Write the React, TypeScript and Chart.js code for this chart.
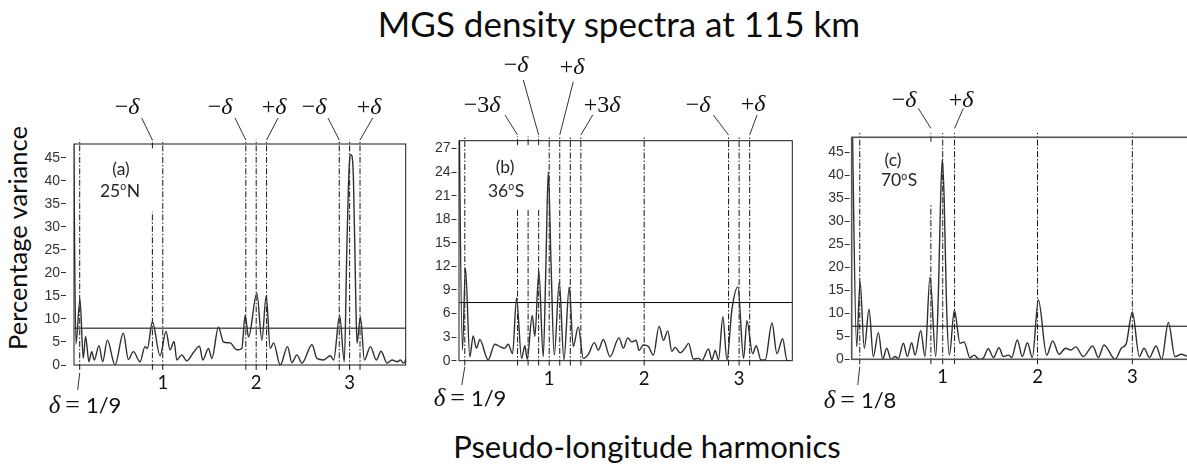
import React, { useEffect, useRef } from "react";
import { Chart, registerables } from "chart.js";

Chart.register(...registerables);

// ================= DATA =================
const titleText = "MGS density spectra at 115 km";
const xAxisTitle = "Pseudo-longitude harmonics";
const yAxisTitle = "Percentage variance";
const xTickValues = [1, 2, 3];

// ---- Panel (a) ----
const deltaA = 1 / 9;
const deltaTextA = "1/9";
const tagA = "(a)";
const latA = "25";
const hemA = "N";
const yTicksA = [0, 5, 10, 15, 20, 25, 30, 35, 40, 45];
const yMaxA = 48;
const xRangeA = [0.05, 3.6];
const thresholdA = 8;
const harmonicsA = [
  0.042, 0.071, 0.114, 0.149, 0.174, 0.21, 0.239, 0.267, 0.317, 0.357, 0.407, 0.489, 0.578, 0.632,
  0.685, 0.757, 0.81, 0.835, 0.889, 0.971, 1.035, 1.078, 1.121, 1.15, 1.203, 1.257, 1.328, 1.393,
  1.428, 1.489, 1.525, 1.596, 1.65, 1.721, 1.793, 1.846, 1.882, 1.918, 2.007, 2.061, 2.107, 2.15,
  2.186, 2.257, 2.336, 2.382, 2.436, 2.489, 2.597, 2.65, 2.722, 2.793, 2.829, 2.893, 2.943, 2.97,
  2.995, 3.015, 3.04, 3.065, 3.079, 3.115, 3.158, 3.222, 3.286, 3.336, 3.401, 3.454, 3.508, 3.543,
  3.579, 3.615,
];
const varianceA = [
  60, 4.6, 14.3, 1.45, 6.2, 0.7, 2.9, 1.1, 4.2, 0.7, 5.4, 0, 6.9, 1.2,
  2.9, 0.7, 4.0, 3.6, 9.4, 2.0, 7.3, 3.3, 5.1, 1.1, 2.2, 0.9, 2.7, 4.1,
  1.1, 3.6, 1.45, 8.2, 5.0, 4.8, 3.3, 3.6, 10.8, 6.1, 15.6, 5.4, 15.0, 3.6,
  4.8, 0, 4.0, 0.5, 2.2, 0.4, 4.4, 1.45, 1.1, 2.0, 1.1, 10.7, 0.7, 25,
  43, 45.7, 41, 15, 4.7, 10.5, 1.1, 4.0, 1.1, 3.0, 0.4, 1.1, 0.7, 1.1,
  0.4, 2.0,
];
const markersA = [deltaA, 1 - deltaA, 1, 2 - deltaA, 2, 2 + deltaA, 3 - deltaA, 3, 3 + deltaA];
const markerCutA = [null, 33.3, null, null, null, null, null, null, null];
const annotTextA = ["−δ", "−δ", "+δ", "−δ", "+δ"];
const annotAtA = [1 - deltaA, 2 - deltaA, 2 + deltaA, 3 - deltaA, 3 + deltaA];

// ---- Panel (b) ----
const deltaB = 1 / 9;
const deltaTextB = "1/9";
const tagB = "(b)";
const latB = "36";
const hemB = "S";
const yTicksB = [0, 3, 6, 9, 12, 15, 18, 21, 24, 27];
const yMaxB = 28;
const xRangeB = [0.05, 3.56];
const thresholdB = 7.4;
const harmonicsB = [
  0.04, 0.086, 0.118, 0.164, 0.199, 0.234, 0.269, 0.357, 0.427, 0.48, 0.533, 0.568, 0.614, 0.656,
  0.709, 0.744, 0.768, 0.821, 0.849, 0.891, 0.937, 0.965, 0.99, 1.02, 1.053, 1.106, 1.155, 1.211,
  1.253, 1.306, 1.359, 1.412, 1.475, 1.517, 1.57, 1.64, 1.735, 1.781, 1.827, 1.869, 1.915, 1.946,
  1.992, 2.045, 2.097, 2.157, 2.203, 2.249, 2.291, 2.326, 2.379, 2.431, 2.467, 2.519, 2.572, 2.607,
  2.678, 2.713, 2.748, 2.783, 2.829, 2.871, 2.924, 2.987, 3.047, 3.082, 3.142, 3.18, 3.23, 3.275,
  3.346, 3.398, 3.458, 3.504, 3.539,
];
const varianceB = [
  45, 1.36, 11.8, 0.5, 3.15, 1.6, 2.7, 0.1, 2.1, 1.8, 1.6, 2.1, 0.9, 8.0,
  0.3, 1.9, 0.2, 5.75, 3.1, 11.4, 0.5, 12, 24.1, 12, 0.7, 10.0, 0.1, 9.4,
  1.8, 4.3, 0.3, 0.8, 2.3, 1.35, 2.7, 0.5, 2.9, 1.6, 2.9, 2.4, 2.6, 1.3,
  2.0, 1.8, 0.7, 4.4, 2.6, 3.8, 1.2, 1.7, 1.0, 1.6, 2.2, 0.2, 0.3, 0,
  1.5, 0.1, 1.3, 0.1, 5.6, 0.1, 6.5, 9.4, 0.3, 5.1, 0.9, 1.9, 0.1, 0.1,
  4.8, 0.9, 2.8, 0.05, 0,
];
const markersB = [
  deltaB, 1 - 3 * deltaB, 1 - 2 * deltaB, 1 - deltaB, 1, 1 + deltaB, 1 + 2 * deltaB, 1 + 3 * deltaB,
  2, 3 - deltaB, 3, 3 + deltaB,
];
const markerCutB = [null, 19.2, 19.2, 19.2, null, null, null, null, null, null, null, null];
const annotTextB = ["−3δ", "−δ", "+δ", "+3δ", "−δ", "+δ"];
const annotAtB = [1 - 3 * deltaB, 1 - deltaB, 1 + deltaB, 1 + 3 * deltaB, 3 - deltaB, 3 + deltaB];

// ---- Panel (c) ----
const deltaC = 1 / 8;
const deltaTextC = "1/8";
const tagC = "(c)";
const latC = "70";
const hemC = "S";
const yTicksC = [0, 5, 10, 15, 20, 25, 30, 35, 40, 45];
const yMaxC = 48.3;
const xRangeC = [0.04, 3.7];
const thresholdC = 7.2;
const harmonicsC = [
  0.04, 0.0925, 0.128, 0.173, 0.223, 0.268, 0.321, 0.367, 0.409, 0.455, 0.497, 0.532, 0.585, 0.627,
  0.673, 0.708, 0.768, 0.813, 0.866, 0.926, 0.955, 0.978, 0.996, 1.015, 1.04, 1.07, 1.123, 1.182,
  1.225, 1.288, 1.33, 1.386, 1.429, 1.481, 1.534, 1.594, 1.64, 1.692, 1.728, 1.787, 1.84, 1.893,
  1.945, 2.009, 2.097, 2.16, 2.227, 2.297, 2.35, 2.403, 2.483, 2.582, 2.642, 2.701, 2.818, 2.888,
  2.934, 3.0, 3.074, 3.123, 3.18, 3.25, 3.31, 3.38, 3.45, 3.521, 3.574, 3.65,
];
const varianceC = [
  60, 2.75, 16.9, 2.4, 10.9, 0.6, 5.8, 0, 2.4, 0, 0.6, 0.2, 3.5, 0.6,
  3.6, 0.9, 6.2, 0.6, 17.9, 0.6, 15, 35, 43.6, 35, 12, 0.9, 10.7, 3.5,
  3.8, 0.3, 0.9, 0, 0.3, 2.3, 0.4, 2.5, 0.6, 0.9, 0.4, 4.2, 0.6, 3.6,
  0.4, 12.9, 0.9, 4.0, 1.1, 2.4, 2.0, 2.7, 0.6, 2.9, 0.4, 3.1, 0, 2.5,
  3.3, 10.3, 0.6, 2.4, 0.4, 2.9, 0, 8.0, 0.6, 1.1, 0.7, 1.0,
];
const markersC = [deltaC, 1 - deltaC, 1, 1 + deltaC, 2, 3];
const markerCutC = [null, 34, null, null, null, null];
const annotTextC = ["−δ", "+δ"];
const annotAtC = [1 - deltaC, 1 + deltaC];

// ================= LAYOUT (page pixels) =================
type Annot = { tx: number; ty: number; lx: number; ly: number; by: number };
type Layout = {
  left: number; top: number; width: number; height: number;
  padTop: number; padRight: number; yAxisW: number; xAxisH: number; tickGap: number;
  boxColor: string; boxWidth: number;
  annots: Annot[];
  dl: { tx: number; ty: number; y1: number; y2: number; dx: number };
  tag: { x1: number; y1: number; x2: number; y2: number };
};

const layoutA: Layout = {
  left: 40, top: 85, width: 380, height: 340,
  padTop: 59, padRight: 14.3, yAxisW: 34, xAxisH: 60, tickGap: 8,
  boxColor: "#1a1a1a", boxWidth: 1,
  annots: [
    { tx: 127, ty: 113.5, lx: 141.7, ly: 118, by: 140 },
    { tx: 220, ty: 113.5, lx: 235, ly: 118, by: 140 },
    { tx: 274, ty: 113.5, lx: 278, ly: 118, by: 140 },
    { tx: 314, ty: 113.5, lx: 328, ly: 118, by: 140 },
    { tx: 369, ty: 113.5, lx: 372.7, ly: 118, by: 140 },
  ],
  dl: { tx: 85, ty: 412.5, y1: 373, y2: 390, dx: -2 },
  tag: { x1: 121, y1: 175, x2: 120, y2: 196.5 },
};

const layoutB: Layout = {
  left: 425, top: 45, width: 380, height: 380,
  padTop: 95.7, padRight: 12.7, yAxisW: 34, xAxisH: 64.3, tickGap: 2.5,
  boxColor: "#1a1a1a", boxWidth: 1,
  annots: [
    { tx: 482, ty: 112, lx: 505, ly: 115, by: 135 },
    { tx: 516, ty: 71.5, lx: 523.3, ly: 80, by: 135 },
    { tx: 572, ty: 73.5, lx: 573.3, ly: 81.7, by: 135 },
    { tx: 602, ty: 111.5, lx: 592.7, ly: 115, by: 135 },
    { tx: 698, ty: 112, lx: 713.3, ly: 115, by: 135 },
    { tx: 753, ty: 111, lx: 757, ly: 115, by: 135 },
  ],
  dl: { tx: 470, ty: 406, y1: 366.7, y2: 385, dx: -3 },
  tag: { x1: 505, y1: 173, x2: 506, y2: 196.5 },
};

const layoutC: Layout = {
  left: 818, top: 80, width: 400, height: 340,
  padTop: 57.3, padRight: 19.3, yAxisW: 33.7, xAxisH: 60.7, tickGap: 2,
  boxColor: "#555", boxWidth: 1.6,
  annots: [
    { tx: 904, ty: 106.7, lx: 918.3, ly: 108.3, by: 128.3 },
    { tx: 961, ty: 106.7, lx: 963.3, ly: 108.3, by: 128.3 },
  ],
  dl: { tx: 860, ty: 408, y1: 366.7, y2: 385, dx: -2 },
  tag: { x1: 893, y1: 165.5, x2: 899, y2: 186 },
};

type PanelData = {
  delta: number; deltaText: string; tag: string; lat: string; hem: string;
  yTicks: number[]; yMax: number; xRange: number[]; threshold: number;
  hx: number[]; vy: number[]; markers: number[]; markerCut: (number | null)[];
  annotText: string[]; annotAt: number[];
};

const panelA: PanelData = {
  delta: deltaA, deltaText: deltaTextA, tag: tagA, lat: latA, hem: hemA, yTicks: yTicksA, yMax: yMaxA,
  xRange: xRangeA, threshold: thresholdA, hx: harmonicsA, vy: varianceA, markers: markersA,
  markerCut: markerCutA, annotText: annotTextA, annotAt: annotAtA,
};
const panelB: PanelData = {
  delta: deltaB, deltaText: deltaTextB, tag: tagB, lat: latB, hem: hemB, yTicks: yTicksB, yMax: yMaxB,
  xRange: xRangeB, threshold: thresholdB, hx: harmonicsB, vy: varianceB, markers: markersB,
  markerCut: markerCutB, annotText: annotTextB, annotAt: annotAtB,
};
const panelC: PanelData = {
  delta: deltaC, deltaText: deltaTextC, tag: tagC, lat: latC, hem: hemC, yTicks: yTicksC, yMax: yMaxC,
  xRange: xRangeC, threshold: thresholdC, hx: harmonicsC, vy: varianceC, markers: markersC,
  markerCut: markerCutC, annotText: annotTextC, annotAt: annotAtC,
};

// ================= DRAW HELPERS =================
const SERIF = "'Liberation Serif', 'DejaVu Serif', serif";
const SANS = "Lato, 'Open Sans', 'Noto Sans', sans-serif";

type Run = { s: string; font: string; gap?: number };

function drawRuns(ctx: CanvasRenderingContext2D, runs: Run[], cx: number, baseline: number) {
  let total = 0;
  const widths = runs.map((r) => {
    ctx.font = r.font;
    const w = ctx.measureText(r.s).width + (r.gap || 0);
    total += w;
    return w;
  });
  let x = cx - total / 2;
  ctx.textAlign = "left";
  ctx.textBaseline = "alphabetic";
  ctx.fillStyle = "#111";
  runs.forEach((r, i) => {
    ctx.font = r.font;
    ctx.fillText(r.s, x, baseline);
    x += widths[i];
  });
}

function mathRuns(text: string, size: number): Run[] {
  return text
    .split(/(δ)/)
    .filter((s) => s.length > 0)
    .map((s) => ({ s, font: (s === "δ" ? "italic " : "") + size + "px " + SERIF }));
}

function drawTag(ctx: CanvasRenderingContext2D, p: PanelData, L: Layout) {
  const ox = L.left, oy = L.top;
  const size = 17.5;
  ctx.fillStyle = "#2a2520";
  ctx.textBaseline = "alphabetic";
  ctx.textAlign = "center";
  ctx.font = size + "px " + SANS;
  ctx.fillText(p.tag, L.tag.x1 - ox, L.tag.y1 - oy);
  const supSize = 10.5;
  ctx.font = size + "px " + SANS;
  const w1 = ctx.measureText(p.lat).width;
  const w3 = ctx.measureText(p.hem).width;
  ctx.font = supSize + "px " + SANS;
  const w2 = ctx.measureText("o").width + 0.5;
  let x = L.tag.x2 - ox - (w1 + w2 + w3) / 2;
  const by = L.tag.y2 - oy;
  ctx.textAlign = "left";
  ctx.font = size + "px " + SANS;
  ctx.fillText(p.lat, x, by);
  x += w1;
  ctx.font = supSize + "px " + SANS;
  ctx.fillText("o", x, by - 6.5);
  x += w2;
  ctx.font = size + "px " + SANS;
  ctx.fillText(p.hem, x, by);
}

function makeOverlay(p: PanelData, L: Layout) {
  return {
    id: "overlay",
    afterDraw(chart: any) {
      const { ctx, chartArea: a } = chart;
      const xs = chart.scales.x;
      const ox = L.left, oy = L.top;
      ctx.save();
      // plot frame
      ctx.strokeStyle = L.boxColor;
      ctx.lineWidth = L.boxWidth;
      ctx.setLineDash([]);
      ctx.strokeRect(a.left, a.top, a.right - a.left, a.bottom - a.top);
      // annotations with leader lines
      ctx.strokeStyle = "#333";
      ctx.lineWidth = 1;
      p.annotText.forEach((t, i) => {
        const an = L.annots[i];
        const bx = xs.getPixelForValue(p.annotAt[i]);
        ctx.beginPath();
        ctx.moveTo(an.lx - ox, an.ly - oy);
        ctx.lineTo(bx, an.by - oy);
        ctx.stroke();
        drawRuns(ctx, mathRuns(t, 24), an.tx - ox, an.ty - oy);
      });
      // delta label
      const dx = xs.getPixelForValue(p.delta);
      ctx.beginPath();
      ctx.moveTo(dx, L.dl.y1 - oy);
      ctx.lineTo(dx + L.dl.dx, L.dl.y2 - oy);
      ctx.stroke();
      drawRuns(
        ctx,
        [
          { s: "δ", font: "italic 25px " + SERIF, gap: 5 },
          { s: "=", font: "26px " + SERIF, gap: 6 },
          { s: p.deltaText, font: "22px " + SANS },
        ],
        L.dl.tx - ox,
        L.dl.ty - oy
      );
      // panel tag
      drawTag(ctx, p, L);
      ctx.restore();
    },
  };
}

function buildConfig(p: PanelData, L: Layout): any {
  const ext = p.yMax * 0.02;
  const below = p.yMax * 0.022;
  const markerSets = p.markers.map((m, i) => {
    const cut = p.markerCut[i];
    const pts =
      cut == null
        ? [{ x: m, y: -below }, { x: m, y: p.yMax + ext }]
        : [
            { x: m, y: -below },
            { x: m, y: cut },
            { x: m, y: null },
            { x: m, y: p.yMax - ext },
            { x: m, y: p.yMax + ext },
          ];
    return {
      data: pts,
      borderColor: "#151515",
      borderWidth: 1,
      borderDash: [6, 2, 1.5, 2],
      pointRadius: 0,
      clip: false,
      spanGaps: false,
      tension: 0,
    };
  });
  return {
    type: "line",
    data: {
      datasets: [
        {
          data: p.hx.map((x, i) => ({ x, y: p.vy[i] })),
          borderColor: "#2f2f2f",
          borderWidth: 1.4,
          pointRadius: 0,
          cubicInterpolationMode: "monotone",
        },
        {
          data: [
            { x: p.xRange[0], y: p.threshold },
            { x: p.xRange[1], y: p.threshold },
          ],
          borderColor: "#000",
          borderWidth: 1,
          pointRadius: 0,
        },
        ...markerSets,
      ],
    },
    options: {
      responsive: false,
      animation: false,
      devicePixelRatio: 1,
      events: [],
      layout: { padding: { left: 0, top: L.padTop, right: L.padRight, bottom: 0 } },
      plugins: { legend: { display: false }, tooltip: { enabled: false } },
      scales: {
        x: {
          type: "linear",
          min: p.xRange[0],
          max: p.xRange[1],
          afterBuildTicks: (s: any) => {
            s.ticks = xTickValues.map((v) => ({ value: v }));
          },
          afterFit: (s: any) => {
            s.height = L.xAxisH;
          },
          grid: { display: false, drawTicks: false },
          border: { display: false },
          ticks: {
            autoSkip: false,
            maxRotation: 0,
            padding: 7,
            color: "#111",
            font: { family: SANS, size: 18.5 },
            callback: (v: any) => String(v),
          },
        },
        y: {
          type: "linear",
          min: 0,
          max: p.yMax,
          afterBuildTicks: (s: any) => {
            s.ticks = p.yTicks.map((v) => ({ value: v }));
          },
          afterFit: (s: any) => {
            s.width = L.yAxisW;
          },
          grid: {
            display: true,
            drawOnChartArea: false,
            drawTicks: true,
            tickLength: L.tickGap + 5,
            tickColor: "#333",
            tickWidth: 1,
            tickBorderDash: [5, 100],
          },
          border: { display: false },
          ticks: {
            padding: 1,
            color: "#333",
            font: { family: "'Liberation Sans', Arial, sans-serif", size: 14 },
            callback: (v: any) => String(v),
          },
        },
      },
    },
    plugins: [makeOverlay(p, L)],
  };
}

function PanelChart({ p, L }: { p: PanelData; L: Layout }) {
  const ref = useRef<HTMLCanvasElement | null>(null);
  useEffect(() => {
    if (!ref.current) return;
    const chart = new Chart(ref.current, buildConfig(p, L));
    return () => chart.destroy();
  }, [p, L]);
  return (
    <canvas
      ref={ref}
      width={L.width}
      height={L.height}
      style={{ position: "absolute", left: L.left, top: L.top, width: L.width, height: L.height, display: "block" }}
    />
  );
}

export default function App() {
  return (
    <div
      style={{
        position: "fixed",
        left: 0,
        top: 0,
        width: 1187,
        height: 465,
        overflow: "hidden",
        background: "#fff",
        fontFamily: SANS,
      }}
    >
      <div
        style={{
          position: "absolute",
          left: 619,
          top: 5.7,
          transform: "translateX(-50%)",
          fontSize: 35,
          lineHeight: "35px",
          whiteSpace: "nowrap",
          color: "#0d0d0d",
        }}
      >
        {titleText}
      </div>
      <PanelChart p={panelA} L={layoutA} />
      <PanelChart p={panelB} L={layoutB} />
      <PanelChart p={panelC} L={layoutC} />
      <div
        style={{
          position: "absolute",
          left: 647,
          top: 431,
          transform: "translateX(-50%)",
          fontSize: 31,
          lineHeight: "31px",
          whiteSpace: "nowrap",
          color: "#0d0d0d",
        }}
      >
        {xAxisTitle}
      </div>
      <div
        style={{
          position: "absolute",
          left: 17.5,
          top: 238,
          transform: "translate(-50%, -50%) rotate(-90deg)",
          fontSize: 25.5,
          lineHeight: "25.5px",
          whiteSpace: "nowrap",
          color: "#0d0d0d",
        }}
      >
        {yAxisTitle}
      </div>
    </div>
  );
}
